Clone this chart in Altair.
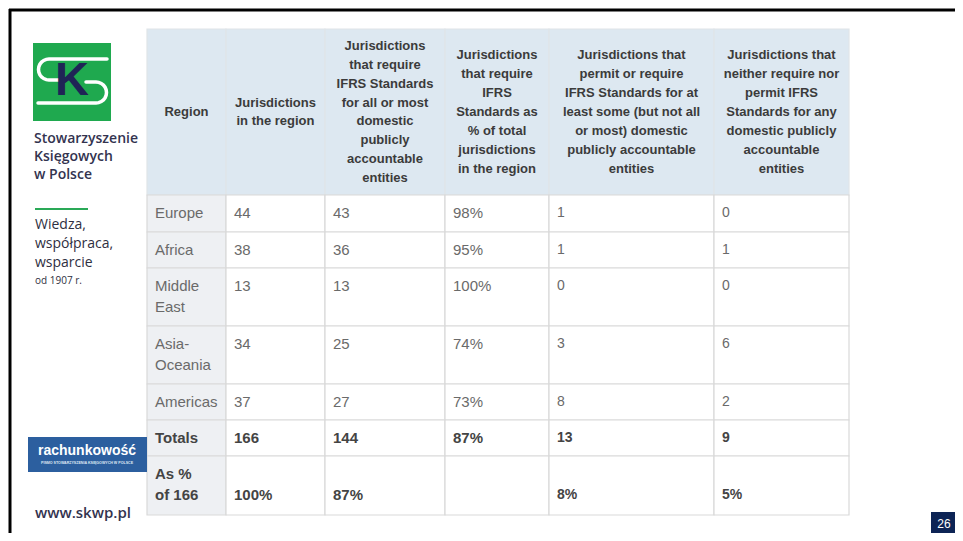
import math
import altair as alt
import pandas as pd

# ---------------- data ----------------
header_lines = [
    ["Region"],
    ["Jurisdictions", "in the region"],
    ["Jurisdictions", "that require", "IFRS Standards", "for all or most", "domestic",
     "publicly", "accountable", "entities"],
    ["Jurisdictions", "that require", "IFRS", "Standards as", "% of total",
     "jurisdictions", "in the region"],
    ["Jurisdictions that", "permit or require", "IFRS Standards for at",
     "least some (but not all", "or most) domestic", "publicly accountable", "entities"],
    ["Jurisdictions that", "neither require nor", "permit IFRS", "Standards for any",
     "domestic publicly", "accountable", "entities"],
]
regions = [["Europe"], ["Africa"], ["Middle", "East"], ["Asia-", "Oceania"], ["Americas"],
           ["Totals"], ["As %", "of 166"]]
jur_in_region = ["44", "38", "13", "34", "37", "166", "100%"]
require_all = ["43", "36", "13", "25", "27", "144", "87%"]
require_pct = ["98%", "95%", "100%", "74%", "73%", "87%", ""]
permit_some = ["1", "1", "0", "3", "8", "13", "8%"]
neither = ["0", "1", "0", "6", "2", "9", "5%"]
bold_rows = [False, False, False, False, False, True, True]
value_line = [0, 0, 0, 0, 0, 0, 1]          # last row values sit on the 2nd line

sidebar_name = ["Stowarzyszenie", "Księgowych", "w Polsce"]
sidebar_motto = ["Wiedza,", "współpraca,", "wsparcie"]
sidebar_since = "od 1907 r."
magazine = "rachunkowość"
magazine_sub = "PISMO STOWARZYSZENIA KSIĘGOWYCH W POLSCE"
website = "www.skwp.pl"
page_no = "26"

# ---------------- layout ----------------
W, H = 947, 525
xs = alt.Scale(domain=[8, 8 + W], zero=False, nice=False)
ys = alt.Scale(domain=[8, 8 + H], zero=False, nice=False, reverse=True)

col_edges = [147, 226, 325, 445, 549, 714, 849]
row_edges = [195, 232, 268, 326, 384, 420, 456, 515]
head_top = 29
HEAD_BG, REGION_BG, BODY_BG = "#dde8f1", "#eef0f3", "#ffffff"
GRID = "#d9d9d9"
FONT = "Liberation Sans"

rects = []
for c in range(6):
    rects.append(dict(x=col_edges[c], x2=col_edges[c + 1], y=head_top, y2=row_edges[0],
                      fill=HEAD_BG, stroke="#dfe4e8"))
for r in range(7):
    for c in range(6):
        rects.append(dict(x=col_edges[c], x2=col_edges[c + 1], y=row_edges[r],
                          y2=row_edges[r + 1], fill=REGION_BG if c == 0 else BODY_BG,
                          stroke=GRID))


def X(f="x"):
    return alt.X(f"{f}:Q", scale=xs, axis=None)


def Y(f="y"):
    return alt.Y(f"{f}:Q", scale=ys, axis=None)


def rect_layer(rows, **kw):
    df = pd.DataFrame(rows)
    enc = dict(x=X(), x2="x2:Q", y=Y(), y2="y2:Q", color=alt.Color("fill:N", scale=None))
    if "stroke" in df:
        enc["stroke"] = alt.Stroke("stroke:N", scale=None)
    return alt.Chart(df).mark_rect(**kw).encode(**enc)


def text_layer(rows, **kw):
    df = pd.DataFrame(rows)
    return alt.Chart(df).mark_text(**kw).encode(
        x=X(), y=Y(), text="t:N", size=alt.Size("s:Q", scale=None),
        color=alt.Color("c:N", scale=None))


# header texts
head_txt = []
hc = (head_top + row_edges[0]) / 2
for c, lines in enumerate(header_lines):
    n = len(lines)
    for i, t in enumerate(lines):
        head_txt.append(dict(x=(col_edges[c] + col_edges[c + 1]) / 2,
                             y=hc + (i - (n - 1) / 2) * 18.9, t=t, s=13, c="#3b3b3b"))

# body texts
LH = 20.5
reg_txt, body_norm, body_bold = [], [], []
cols = [jur_in_region, require_all, require_pct, permit_some, neither]
for r in range(7):
    top = row_edges[r] + 18
    tgt_reg = body_bold if bold_rows[r] else reg_txt
    for i, t in enumerate(regions[r]):
        tgt_reg.append(dict(x=col_edges[0] + 8, y=top + i * LH, t=t, s=15,
                            c="#444444" if bold_rows[r] else "#6a6a6a"))
    for c, vals in enumerate(cols, start=1):
        if vals[r] == "":
            continue
        size = 15 if c <= 3 else 14
        d = dict(x=col_edges[c] + 8, y=top + value_line[r] * LH, t=vals[r], s=size,
                 c="#444444" if bold_rows[r] else "#6a6a6a")
        (body_bold if bold_rows[r] else body_norm).append(d)

table = alt.layer(
    rect_layer(rects, strokeWidth=1.2),
    text_layer(head_txt, font=FONT, fontWeight="bold", align="center", baseline="middle"),
    text_layer(reg_txt + body_norm, font=FONT, align="left", baseline="middle"),
    text_layer(body_bold, font=FONT, fontWeight="bold", align="left", baseline="middle"),
)

# ---------------- slide decoration ----------------
frame = alt.layer(
    alt.Chart(pd.DataFrame([dict(x=9, x2=963, y=10)])).mark_rule(
        color="#000000", strokeWidth=3).encode(x=X(), x2="x2:Q", y=Y()),
    alt.Chart(pd.DataFrame([dict(x=10, y=9, y2=541)])).mark_rule(
        color="#000000", strokeWidth=3).encode(x=X(), y=Y(), y2="y2:Q"),
)

# logo
logo_box = rect_layer([dict(x=33, x2=111, y=43, y2=121, fill="#1fa94f")])
path = [(107, 59), (49, 59)]
for k in range(1, 12):
    a = math.pi / 2 + k * math.pi / 12
    path.append((49 + 10.5 * math.cos(a), 69.5 - 10.5 * math.sin(a)))
path += [(49, 80), (60, 80)]
path2 = [(86, 82), (96, 82)]
for k in range(1, 12):
    a = math.pi / 2 - k * math.pi / 12
    path2.append((96 + 10.5 * math.cos(a), 92.5 - 10.5 * math.sin(a)))
path2 += [(96, 103), (38, 103)]
lines_df = pd.DataFrame(
    [dict(x=p[0], y=p[1], o=i, g=0) for i, p in enumerate(path)]
    + [dict(x=p[0], y=p[1], o=i, g=1) for i, p in enumerate(path2)])
logo_lines = alt.Chart(lines_df).mark_line(color="white", strokeWidth=3.5,
                                           strokeCap="round").encode(
    x=X(), y=Y(), order="o:Q", detail="g:N")
logo_k = text_layer([dict(x=72, y=81, t="K", s=47, c="#1f2456")], font=FONT,
                    fontWeight="bold", align="center", baseline="middle")

side_txt = [dict(x=34, y=139 + i * 18, t=t, s=14, c="#33334f") for i, t in enumerate(sidebar_name)]
side_txt2 = [dict(x=35, y=225 + i * 19, t=t, s=14, c="#2f2f3f") for i, t in enumerate(sidebar_motto)]
side_small = [dict(x=35, y=281, t=sidebar_since, s=10, c="#2f2f3f")]
green_rule = alt.Chart(pd.DataFrame([dict(x=35, x2=88, y=209)])).mark_rule(
    color="#2aa957", strokeWidth=2).encode(x=X(), x2="x2:Q", y=Y())

mag_box = rect_layer([dict(x=28, x2=147, y=437, y2=472, fill="#2c5f9f")])
mag_txt = text_layer([dict(x=87, y=451, t=magazine, s=14, c="#ffffff")], font=FONT,
                     fontWeight="bold", align="center", baseline="middle")
mag_sub = text_layer([dict(x=87, y=463, t=magazine_sub, s=3.6, c="#dfe7f2")], font=FONT,
                     fontWeight="bold", align="center", baseline="middle")
web_txt = text_layer([dict(x=35, y=513, t=website, s=15, c="#33334f")], font="Open Sans",
                     fontWeight=600, align="left", baseline="middle")

page_box = rect_layer([dict(x=931, x2=955, y=512, y2=533, fill="#0d2455")])
page_txt = text_layer([dict(x=944, y=524, t=page_no, s=12, c="#ffffff")], font=FONT,
                      align="center", baseline="middle")

sidebar = alt.layer(
    logo_box, logo_lines, logo_k,
    text_layer(side_txt, font="Open Sans", fontWeight=600, align="left", baseline="middle"),
    text_layer(side_txt2, font="Open Sans", fontWeight=500, align="left", baseline="middle"),
    text_layer(side_small, font="Open Sans", align="left", baseline="middle"),
    green_rule, mag_box, mag_txt, mag_sub, web_txt, page_box, page_txt,
)

chart = alt.layer(frame, table, sidebar).properties(
    width=W, height=H, padding=0, autosize="none",
    background="#ffffff",
).configure_view(stroke=None)

chart.save("out.html", embed_options={"renderer": "svg", "actions": False})
